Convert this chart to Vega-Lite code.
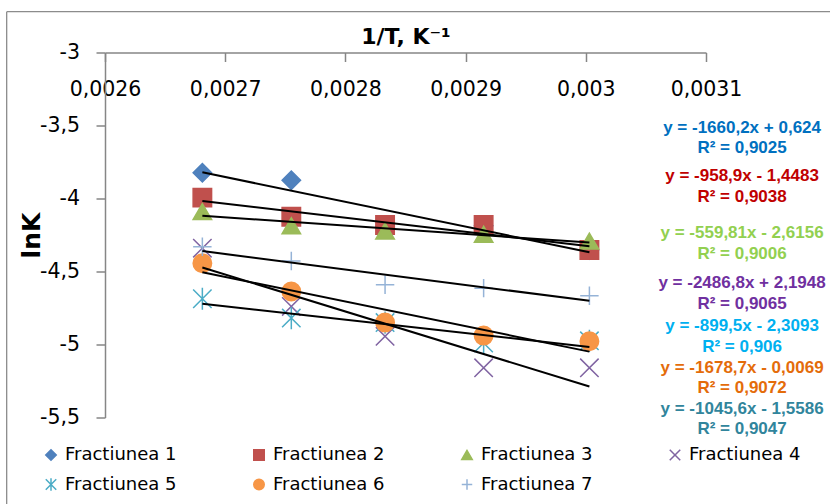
{
  "$schema": "https://vega.github.io/schema/vega-lite/v6.json",
  "width": 601,
  "height": 365,
  "autosize": {"type": "none"},
  "padding": {"left": 105, "top": 52.5, "right": 124, "bottom": 86.5},
  "background": "white",
  "config": {
    "view": {"stroke": null}
  },
  "datasets": {
    "pts": [
      {"series": "Fractiunea 1", "x": 0.002681, "y": -3.823},
      {"series": "Fractiunea 1", "x": 0.002755, "y": -3.875},
      {"series": "Fractiunea 1", "x": 0.002833, "y": -4.195},
      {"series": "Fractiunea 1", "x": 0.002915, "y": -4.186},
      {"series": "Fractiunea 1", "x": 0.003003, "y": -4.353},
      {"series": "Fractiunea 2", "x": 0.002681, "y": -3.994},
      {"series": "Fractiunea 2", "x": 0.002755, "y": -4.125},
      {"series": "Fractiunea 2", "x": 0.002833, "y": -4.182},
      {"series": "Fractiunea 2", "x": 0.002915, "y": -4.182},
      {"series": "Fractiunea 2", "x": 0.003003, "y": -4.353},
      {"series": "Fractiunea 3", "x": 0.002681, "y": -4.09},
      {"series": "Fractiunea 3", "x": 0.002755, "y": -4.187},
      {"series": "Fractiunea 3", "x": 0.002833, "y": -4.222},
      {"series": "Fractiunea 3", "x": 0.002915, "y": -4.245},
      {"series": "Fractiunea 3", "x": 0.003003, "y": -4.292},
      {"series": "Fractiunea 4", "x": 0.002681, "y": -4.34},
      {"series": "Fractiunea 4", "x": 0.002755, "y": -4.739},
      {"series": "Fractiunea 4", "x": 0.002833, "y": -4.944},
      {"series": "Fractiunea 4", "x": 0.002915, "y": -5.16},
      {"series": "Fractiunea 4", "x": 0.003003, "y": -5.16},
      {"series": "Fractiunea 5", "x": 0.002681, "y": -4.687},
      {"series": "Fractiunea 5", "x": 0.002755, "y": -4.819},
      {"series": "Fractiunea 5", "x": 0.002833, "y": -4.85},
      {"series": "Fractiunea 5", "x": 0.002915, "y": -4.99},
      {"series": "Fractiunea 5", "x": 0.003003, "y": -4.975},
      {"series": "Fractiunea 6", "x": 0.002681, "y": -4.443},
      {"series": "Fractiunea 6", "x": 0.002755, "y": -4.637},
      {"series": "Fractiunea 6", "x": 0.002833, "y": -4.849},
      {"series": "Fractiunea 6", "x": 0.002915, "y": -4.939},
      {"series": "Fractiunea 6", "x": 0.003003, "y": -4.978},
      {"series": "Fractiunea 7", "x": 0.002681, "y": -4.33},
      {"series": "Fractiunea 7", "x": 0.002755, "y": -4.428},
      {"series": "Fractiunea 7", "x": 0.002833, "y": -4.591},
      {"series": "Fractiunea 7", "x": 0.002915, "y": -4.614},
      {"series": "Fractiunea 7", "x": 0.003003, "y": -4.666}
    ],
    "eqs": [
      {"series": "Fractiunea 1", "label": "y = -1660,2x + 0,624", "x": 0.00313, "y": -3.5534},
      {"series": "Fractiunea 1", "label": "R² = 0,9025", "x": 0.00313, "y": -3.6904},
      {"series": "Fractiunea 2", "label": "y = -958,9x - 1,4483", "x": 0.00313, "y": -3.8781},
      {"series": "Fractiunea 2", "label": "R² = 0,9038", "x": 0.00313, "y": -4.0219},
      {"series": "Fractiunea 3", "label": "y = -559,81x - 2,6156", "x": 0.00313, "y": -4.2726},
      {"series": "Fractiunea 3", "label": "R² = 0,9006", "x": 0.00313, "y": -4.4164},
      {"series": "Fractiunea 4", "label": "y = -2486,8x + 2,1948", "x": 0.00313, "y": -4.6151},
      {"series": "Fractiunea 4", "label": "R² = 0,9065", "x": 0.00313, "y": -4.7589},
      {"series": "Fractiunea 5", "label": "y = -899,5x - 2,3093", "x": 0.00313, "y": -4.9055},
      {"series": "Fractiunea 5", "label": "R² = 0,906", "x": 0.00313, "y": -5.0493},
      {"series": "Fractiunea 6", "label": "y = -1678,7x - 0,0069", "x": 0.00313, "y": -5.1932},
      {"series": "Fractiunea 6", "label": "R² = 0,9072", "x": 0.00313, "y": -5.3342},
      {"series": "Fractiunea 7", "label": "y = -1045,6x - 1,5586", "x": 0.00313, "y": -5.476},
      {"series": "Fractiunea 7", "label": "R² = 0,9047", "x": 0.00313, "y": -5.613}
    ],
    "frameLeft": [{"x": 0.0025182, "y": -2.7205, "y2": -6.3}],
    "frameTop": [{"x": 0.0025182, "x2": 0.0033, "y": -2.7205}]
  },
  "encoding": {
    "x": {
      "field": "x", "type": "quantitative",
      "scale": {"domain": [0.0026, 0.0031], "nice": false, "zero": false},
      "axis": {
        "orient": "bottom", "offset": -365,
        "values": [0.0026, 0.0027, 0.0028, 0.0029, 0.003, 0.0031],
        "labelExpr": "replace(format(datum.value, '~g'), '.', ',')",
        "grid": false, "labelFlush": false, "labelOverlap": false,
        "title": "1/T, K⁻¹", "titleY": -9, "titleBaseline": "alphabetic",
        "titleFont": "DejaVu Sans", "titleFontWeight": "bold", "titleFontSize": 22, "titleColor": "#000000",
        "labelFont": "DejaVu Sans", "labelFontSize": 20.5, "labelColor": "#000000",
        "labelBaseline": "alphabetic", "labelPadding": 34,
        "tickSize": 9, "tickColor": "#868686", "tickWidth": 1.5,
        "domainColor": "#868686", "domainWidth": 1.5
      }
    },
    "y": {
      "field": "y", "type": "quantitative",
      "scale": {"domain": [-5.5, -3], "nice": false, "zero": false},
      "axis": {
        "orient": "left",
        "values": [-3, -3.5, -4, -4.5, -5, -5.5],
        "labelExpr": "replace(replace(format(datum.value, '~g'), '.', ','), '−', '-')",
        "grid": false, "labelFlush": false, "labelOverlap": false,
        "title": "lnK", "titleX": -66, "titleBaseline": "alphabetic",
        "titleFont": "DejaVu Sans", "titleFontWeight": "bold", "titleFontSize": 25, "titleColor": "#000000",
        "labelFont": "DejaVu Sans", "labelFontSize": 20.5, "labelColor": "#000000",
        "labelPadding": 16.5,
        "tickSize": 9, "tickColor": "#868686", "tickWidth": 1.5,
        "domainColor": "#868686", "domainWidth": 1.5
      }
    }
  },
  "layer": [
    {
      "data": {"name": "frameLeft"},
      "mark": {"type": "rule", "color": "#8C8C8C", "strokeWidth": 1.3, "clip": false},
      "encoding": {
        "y2": {"field": "y2"}
      }
    },
    {
      "data": {"name": "frameTop"},
      "mark": {"type": "rule", "color": "#8C8C8C", "strokeWidth": 1.3, "clip": false},
      "encoding": {
        "x2": {"field": "x2"}
      }
    },
    {
      "data": {"name": "pts"},
      "mark": {"type": "point", "filled": true, "size": 340, "strokeWidth": 1.5, "opacity": 1},
      "encoding": {
        "shape": {
          "field": "series", "type": "nominal",
          "scale": {
            "domain": ["Fractiunea 1", "Fractiunea 2", "Fractiunea 3", "Fractiunea 4", "Fractiunea 5", "Fractiunea 6", "Fractiunea 7"],
            "range": ["diamond", "square", "triangle-up", "M-1,-1L1,1M-1,1L1,-1", "M-1,-1L1,1M-1,1L1,-1M0,-1.2L0,1.2", "circle", "M-1,0L1,0M0,-1L0,1"]
          },
          "legend": {
            "title": null, "orient": "none", "legendX": -63, "legendY": 393, "direction": "horizontal",
            "columns": 4, "columnPadding": 73, "rowPadding": 10, "gridAlign": "all",
            "symbolSize": 110, "symbolStrokeWidth": 1.5, "padding": 0,
            "labelFont": "DejaVu Sans", "labelFontSize": 18, "labelColor": "#000000", "labelOffset": 5, "labelLimit": 0
          }
        },
        "fill": {
          "field": "series", "type": "nominal",
          "scale": {
            "domain": ["Fractiunea 1", "Fractiunea 2", "Fractiunea 3", "Fractiunea 4", "Fractiunea 5", "Fractiunea 6", "Fractiunea 7"],
            "range": ["#4F81BD", "#C0504D", "#9BBB59", "transparent", "transparent", "#F79646", "transparent"]
          },
          "legend": {
            "title": null, "orient": "none", "legendX": -63, "legendY": 393, "direction": "horizontal",
            "columns": 4, "columnPadding": 73, "rowPadding": 10, "gridAlign": "all",
            "symbolSize": 110, "symbolStrokeWidth": 1.5, "padding": 0,
            "labelFont": "DejaVu Sans", "labelFontSize": 18, "labelColor": "#000000", "labelOffset": 5, "labelLimit": 0
          }
        },
        "stroke": {
          "field": "series", "type": "nominal",
          "scale": {
            "domain": ["Fractiunea 1", "Fractiunea 2", "Fractiunea 3", "Fractiunea 4", "Fractiunea 5", "Fractiunea 6", "Fractiunea 7"],
            "range": ["#4F81BD", "#C0504D", "#9BBB59", "#8064A2", "#4BACC6", "#F79646", "#95B3D7"]
          },
          "legend": {
            "title": null, "orient": "none", "legendX": -63, "legendY": 393, "direction": "horizontal",
            "columns": 4, "columnPadding": 73, "rowPadding": 10, "gridAlign": "all",
            "symbolSize": 110, "symbolStrokeWidth": 1.5, "padding": 0,
            "labelFont": "DejaVu Sans", "labelFontSize": 18, "labelColor": "#000000", "labelOffset": 5, "labelLimit": 0
          }
        }
      }
    },
    {
      "data": {"name": "pts"},
      "transform": [{"regression": "y", "on": "x", "groupby": ["series"]}],
      "mark": {"type": "line", "color": "#000000", "strokeWidth": 2},
      "encoding": {
        "detail": {"field": "series", "type": "nominal"}
      }
    },
    {
      "data": {"name": "eqs"},
      "mark": {"type": "text", "font": "Liberation Sans", "fontWeight": "bold", "fontSize": 17, "align": "center", "baseline": "alphabetic"},
      "encoding": {
        "text": {"field": "label", "type": "nominal"},
        "color": {
          "field": "series", "type": "nominal",
          "scale": {
            "domain": ["Fractiunea 1", "Fractiunea 2", "Fractiunea 3", "Fractiunea 4", "Fractiunea 5", "Fractiunea 6", "Fractiunea 7"],
            "range": ["#0070C0", "#C00000", "#92D050", "#7030A0", "#00B0F0", "#E46C0A", "#31859C"]
          },
          "legend": null
        }
      }
    }
  ]
}
